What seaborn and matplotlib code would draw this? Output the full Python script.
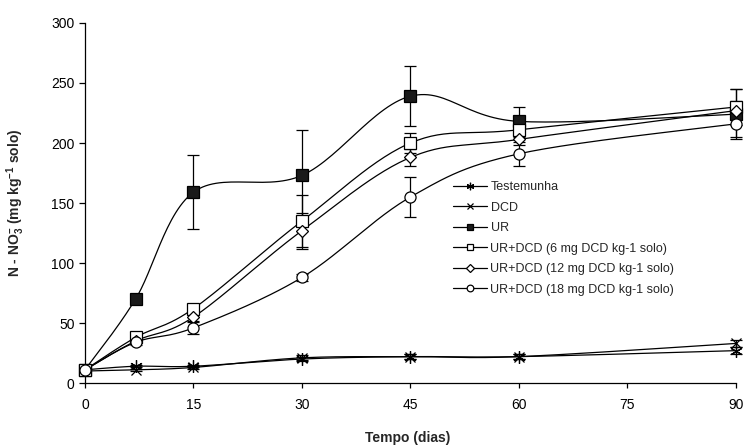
import numpy as np
import pandas as pd
import matplotlib
matplotlib.use("Agg")
import matplotlib.pyplot as plt
import seaborn as sns
from matplotlib.lines import Line2D

# ---- data ----
dias = [0, 7, 15, 30, 45, 60, 90]
testemunha = [11, 14, 14, 20, 22, 22, 27]
dcd = [10, 11, 13, 21, 22, 22, 33]
ur = [11, 70, 159, 173, 239, 218, 224]
ur_dcd6 = [11, 38, 62, 135, 200, 211, 230]
ur_dcd12 = [11, 35, 55, 127, 188, 203, 227]
ur_dcd18 = [11, 34, 46, 88, 155, 191, 216]

err_testemunha = [0, 1, 1, 2, 2, 2, 3]
err_dcd = [0, 1, 1, 2, 2, 2, 3]
err_ur = [0, 3, 31, 38, 25, 12, 21]
err_ur6 = [0, 2, 3, 22, 8, 6, 15]
err_ur12 = [0, 2, 3, 15, 7, 5, 8]
err_ur18 = [0, 2, 5, 3, 17, 10, 11]

labels = ["Testemunha", "DCD", "UR",
          "UR+DCD (6 mg DCD kg-1 solo)",
          "UR+DCD (12 mg DCD kg-1 solo)",
          "UR+DCD (18 mg DCD kg-1 solo)"]
series = [testemunha, dcd, ur, ur_dcd6, ur_dcd12, ur_dcd18]
errors = [err_testemunha, err_dcd, err_ur, err_ur6, err_ur12, err_ur18]
markers = [(6, 2, 0), "x", "s", "s", "D", "o"]
faces = ["k", "k", "k", "white", "white", "white"]
msizes = [9, 7, 8, 8, 6.2, 8]

sns.set_theme(style="ticks")
plt.rcParams["font.family"] = ["Liberation Sans", "DejaVu Sans"]
plt.rcParams["mathtext.fontset"] = "custom"
plt.rcParams["mathtext.rm"] = "Liberation Sans"
plt.rcParams["mathtext.bf"] = "Liberation Sans:bold"
plt.rcParams["mathtext.default"] = "bf"


def smooth(xs, ys, n=30):
    """Excel-style smoothed line (Bezier with 1/6 tangents)."""
    P = np.column_stack([xs, ys]).astype(float)
    m = len(P)
    out = []
    t = np.linspace(0, 1, n)
    for i in range(m - 1):
        p0 = P[i]
        p3 = P[i + 1]
        pm = P[i - 1] if i > 0 else P[i]
        pp = P[i + 2] if i + 2 < m else P[i + 1]
        c1 = p0 + (p3 - pm) / 6.0
        c2 = p3 - (pp - p0) / 6.0
        seg = ((1 - t) ** 3)[:, None] * p0 + (3 * (1 - t) ** 2 * t)[:, None] * c1 \
            + (3 * (1 - t) * t ** 2)[:, None] * c2 + (t ** 3)[:, None] * p3
        out.append(seg if i == 0 else seg[1:])
    return np.vstack(out)


fig = plt.figure(figsize=(7.44, 4.48), dpi=100)
ax = fig.add_axes([0.1142, 0.145, 0.875, 0.8037])

handles = []
for lab, ys, es, mk, fc, ms in zip(labels, series, errors, markers, faces, msizes):
    curve = smooth(dias, ys)
    df = pd.DataFrame({"x": curve[:, 0], "y": curve[:, 1]})
    sns.lineplot(data=df, x="x", y="y", ax=ax, color="black", lw=0.9,
                 sort=False, estimator=None)
    ax.errorbar(dias, ys, yerr=es, fmt="none", ecolor="black", elinewidth=0.9,
                capsize=4, capthick=0.9, zorder=3, clip_on=False)
    ax.plot(dias, ys, ls="none", marker=mk, ms=ms, mfc=fc, mec="black",
            mew=0.9, zorder=4, clip_on=False)
    handles.append(Line2D([], [], color="black", lw=0.9, marker=mk,
                          ms=ms * 0.6, mfc=fc, mec="black", mew=0.9))

ax.set_xlim(0, 90)
ax.set_ylim(0, 300)
ax.set_xticks([0, 15, 30, 45, 60, 75, 90])
ax.set_yticks([0, 50, 100, 150, 200, 250, 300])
ax.tick_params(labelsize=10, width=0.9, colors="black")
ax.tick_params(axis="x", length=3.6, pad=7)
ax.tick_params(axis="y", length=4.5, pad=3)
for s in ["top", "right"]:
    ax.spines[s].set_visible(False)
for s in ["left", "bottom"]:
    ax.spines[s].set_linewidth(0.9)
    ax.spines[s].set_color("black")

ax.set_xlabel("Tempo (dias)", fontsize=10, fontweight="bold")
ax.set_ylabel(r"N - NO$_3^{-}$ (mg kg$^{-1}$ solo)", fontsize=10,
              fontweight="bold")
ax.xaxis.set_label_coords(0.496, -0.133)
ax.yaxis.set_label_coords(-0.089, 0.5)

leg = ax.legend(handles, labels, loc="upper left",
                bbox_to_anchor=(453 / 744, 1 - 181 / 448),
                bbox_transform=fig.transFigure, frameon=False, fontsize=9,
                handlelength=2.7, handletextpad=0.3, labelspacing=0.68,
                borderaxespad=0, borderpad=0)

fig.savefig("out.png", dpi=100)
